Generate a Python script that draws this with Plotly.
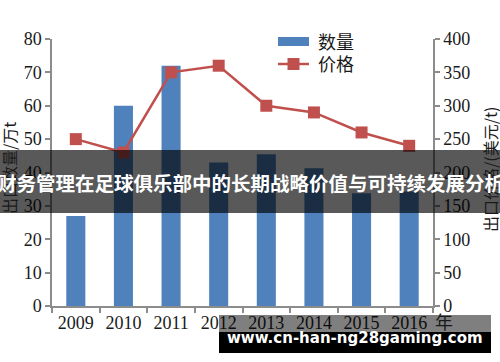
import plotly.graph_objects as go

years = ["2009", "2010", "2011", "2012", "2013", "2014", "2015", "2016"]
quantity = [27, 60, 72, 43, 45.5, 41.3, 33.8, 34.3]
price = [250, 230, 350, 360, 300, 290, 260, 240]

W, H = 500, 362
L, R, T, B = 52, 433, 39, 306

def px(x):
    return (x - L) / (R - L)

def py(y):
    return (B - y) / (B - T)

BAR = "#4f81bd"
LINE = "#c0504d"
AX = "#8c8c8c"
TXT = "#1a1a1a"
SERIF = "Liberation Serif"
CJK = "Noto Sans CJK SC"

fig = go.Figure()
fig.add_trace(go.Bar(x=years, y=quantity, marker=dict(color=BAR, line=dict(width=0)),
                     width=0.4, name="数量", showlegend=False))
fig.add_trace(go.Scatter(x=years, y=price, yaxis="y2", mode="lines+markers",
                         line=dict(color=LINE, width=2.5),
                         marker=dict(symbol="square", size=12, color=LINE),
                         name="价格", showlegend=False))

axis_common = dict(showline=True, linecolor=AX, linewidth=1.5, ticks="outside",
                   ticklen=5, tickcolor=AX, tickwidth=1.5, showgrid=False, zeroline=False,
                   tickfont=dict(family=SERIF, size=18, color=TXT))

fig.update_layout(
    width=W, height=H,
    margin=dict(l=L, r=W - R, t=T, b=H - B),
    paper_bgcolor="white", plot_bgcolor="white",
    bargap=0.6,
    xaxis=dict(**axis_common, type="category", tickson="boundaries",
               range=[-0.5, 7.5]),
    yaxis=dict(**axis_common, range=[0, 80], dtick=10),
    yaxis2=dict(**axis_common, range=[0, 400], dtick=50, overlaying="y", side="right"),
)

shapes = []
annots = []

def note(x, y, text, size, family=CJK, color=TXT, xanchor="center", angle=0):
    annots.append(dict(x=px(x), y=py(y), xref="paper", yref="paper", text=text,
                       xanchor=xanchor, yanchor="middle", textangle=angle,
                       showarrow=False, font=dict(family=family, size=size, color=color)))

# axis titles
note(9, 168, "出口数量/万t", 16, angle=-90)
note(490, 170, "出口价格/(美元/t)", 16, angle=-90)
note(444, 321, "年", 18)

# legend
shapes.append(dict(type="rect", xref="paper", yref="paper",
                   x0=px(278), x1=px(309), y0=py(46), y1=py(37),
                   fillcolor=BAR, line=dict(width=0)))
note(316, 41, "数量", 18, xanchor="left")
shapes.append(dict(type="line", xref="paper", yref="paper",
                   x0=px(278), x1=px(309), y0=py(64), y1=py(64),
                   line=dict(color=LINE, width=2.5)))
shapes.append(dict(type="rect", xref="paper", yref="paper",
                   x0=px(287.5), x1=px(299.5), y0=py(70), y1=py(58),
                   fillcolor=LINE, line=dict(width=0)))
note(316, 63, "价格", 18, xanchor="left")

# banner overlay
shapes.append(dict(type="rect", xref="paper", yref="paper", layer="above",
                   x0=px(-5), x1=px(505), y0=py(213), y1=py(150),
                   fillcolor="rgba(0,0,0,0.65)", line=dict(width=0)))
note(250, 182, "<b>财务管理在足球俱乐部中的长期战略价值与可持续发展分析</b>", 19.5,
     color="white")

# watermark
shapes.append(dict(type="rect", xref="paper", yref="paper", layer="above",
                   x0=px(219), x1=px(491), y0=py(332), y1=py(315),
                   fillcolor="rgba(0,0,0,0.5)", line=dict(width=0)))
shapes.append(dict(type="rect", xref="paper", yref="paper", layer="above",
                   x0=px(219), x1=px(491), y0=py(353), y1=py(332),
                   fillcolor="black", line=dict(width=0)))
note(355, 338, "<b>www.cn-han-ng28gaming.com</b>", 15, family="DejaVu Sans", color="white")

fig.update_layout(shapes=shapes, annotations=annots)
fig.write_html("out.html")
